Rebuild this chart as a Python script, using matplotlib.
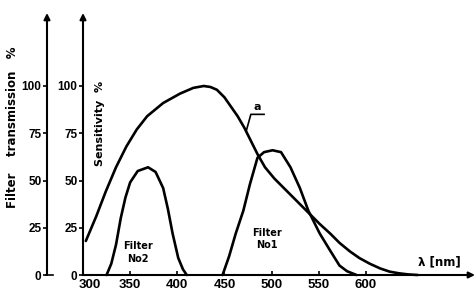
import matplotlib
matplotlib.use("Agg")
import matplotlib.pyplot as plt
from matplotlib.lines import Line2D
from matplotlib.transforms import ScaledTranslation

# Data
sens_wl = [303, 314, 324, 335, 346, 357, 368, 385, 403, 417, 428, 435, 442, 450, 457,
           464, 471, 478, 485, 493, 503, 512, 522, 531, 541, 551, 562, 572, 583, 593,
           604, 615, 625, 635, 645, 655]
sens_val = [18, 31, 44, 57, 68, 77, 84, 91, 96, 99, 100, 99.5, 98, 94, 89,
            84, 78, 71, 64, 57, 51, 46.5, 41.5, 37, 32, 27, 22, 17, 12.5, 9,
            6, 3.5, 1.8, 0.9, 0.3, 0]

f2_wl = [325, 330, 335, 340, 345, 350, 358, 369, 377, 385, 390, 395, 401, 406, 410]
f2_val = [0, 6, 16, 30, 41, 49, 55, 57, 54.5, 46, 35, 22, 9, 3, 0]

f1_wl = [448, 455, 462, 470, 477, 485, 492, 501, 510, 520, 530, 539, 551, 562, 572, 580, 590]
f1_val = [0, 10, 22, 34, 48, 62, 65, 66, 65, 57, 46, 34, 22, 13, 5, 2, 0]

y_ticks = [0, 25, 50, 75, 100]
x_ticks = [300, 350, 400, 450, 500, 550, 600]

TICKFONT = ['Liberation Sans', 'DejaVu Sans']

W, H = 477, 295
fig = plt.figure(figsize=(W / 100, H / 100), dpi=100)

x0, x1 = 83, 475
y0, y1 = 275, 13
XMIN = 300
XMAX = 300 + (x1 - x0) / 0.943
YMAX = (y0 - y1) / 1.89

ax = fig.add_axes([x0 / W, (H - y0) / H, (x1 - x0) / W, (y0 - y1) / H])
ax.set_xlim(XMIN, XMAX)
ax.set_ylim(0, YMAX)
for s in ax.spines.values():
    s.set_visible(False)

lw_ax = 1.5
lw_c = 1.9
arrow = dict(arrowstyle='-|>', lw=lw_ax, color='black', mutation_scale=9,
             shrinkA=0, shrinkB=0)
ax.annotate('', xy=(0, 1), xytext=(0, 0), xycoords='axes fraction', arrowprops=arrow)
ax.annotate('', xy=(1, 0), xytext=(0, 0), xycoords='axes fraction', arrowprops=arrow)

ax.set_yticks(y_ticks)
ax.set_yticklabels([str(v) for v in y_ticks])
ax.set_xticks(x_ticks)
ax.set_xticklabels([str(v) for v in x_ticks])
ax.tick_params(axis='y', direction='out', length=3, width=1.2, pad=1, labelsize=8.5)
ax.tick_params(axis='x', direction='in', length=3, width=1.2, pad=3, labelsize=9.5)
for lab in ax.get_xticklabels() + ax.get_yticklabels():
    lab.set_fontweight('bold')
    lab.set_family(TICKFONT)
first = ax.get_xticklabels()[0]
first.set_transform(first.get_transform() + ScaledTranslation(0.07, 0, fig.dpi_scale_trans))

ax.plot(sens_wl, sens_val, color='black', lw=lw_c, solid_capstyle='round', clip_on=False)
ax.plot(f2_wl, f2_val, color='black', lw=lw_c, solid_capstyle='round', clip_on=False)
ax.plot(f1_wl, f1_val, color='black', lw=lw_c, solid_capstyle='round', clip_on=False)

# label a with leader
ax.plot([473, 478, 492], [76, 85, 85], color='black', lw=1.2)
ax.text(485, 86, 'a', fontsize=8, fontweight='bold', ha='center', va='bottom')

ax.text(358, 12, 'Filter\nNo2', fontsize=7, fontweight='bold', ha='center', va='center',
        linespacing=1.3)
ax.text(495, 19, 'Filter\nNo1', fontsize=7, fontweight='bold', ha='center', va='center',
        linespacing=1.3)
ax.text(655, 6.8, 'λ [nm]', fontsize=8.5, fontweight='bold', ha='left', va='center')

# outer axis (filter transmission)
ox = 47
ax2 = fig.add_axes([ox / W, (H - y0) / H, 0.001, (y0 - y1) / H])
ax2.set_ylim(0, YMAX)
ax2.set_xlim(0, 1)
for s in ax2.spines.values():
    s.set_visible(False)
ax2.set_xticks([])
ax2.set_yticks(y_ticks)
ax2.set_yticklabels([str(v) for v in y_ticks])
ax2.tick_params(axis='y', direction='out', length=3, width=1.2, pad=1, labelsize=8.5)
for lab in ax2.get_yticklabels():
    lab.set_fontweight('bold')
    lab.set_family(TICKFONT)
ax2.annotate('', xy=(0, 1), xytext=(0, 0), xycoords='axes fraction', arrowprops=arrow)
fig.add_artist(Line2D([(ox - 1) / W, (ox + 6) / W], [(H - y0) / H, (H - y0) / H],
                      color='black', lw=1.2, transform=fig.transFigure))

fig.text(13 / W, 1 - 127 / H, 'Filter    transmission   %', rotation=90, fontsize=8.5,
         fontweight='bold', ha='center', va='center')
fig.text(100 / W, 1 - 123 / H, 'Sensitivity  %', rotation=90, fontsize=8,
         fontweight='bold', ha='center', va='center')

fig.savefig('out.png', dpi=100)
